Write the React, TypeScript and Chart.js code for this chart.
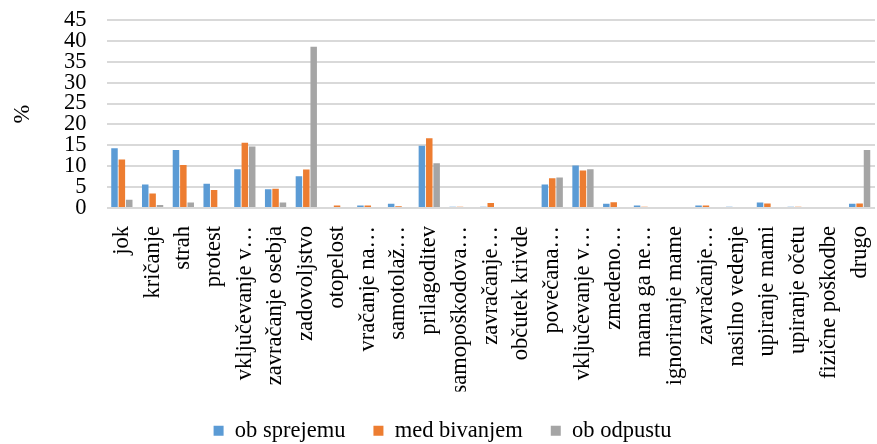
import React, { useEffect, useRef } from "react";
import { Chart, registerables } from "chart.js";

Chart.register(...registerables);

const categories: string[] = [
  "jok",
  "kričanje",
  "strah",
  "protest",
  "vključevanje v…",
  "zavračanje osebja",
  "zadovoljstvo",
  "otopelost",
  "vračanje na…",
  "samotolaž…",
  "prilagoditev",
  "samopoškodova…",
  "zavračanje…",
  "občutek krivde",
  "povečana…",
  "vključevanje v…",
  "zmedeno…",
  "mama ga ne…",
  "ignoriranje mame",
  "zavračanje…",
  "nasilno vedenje",
  "upiranje mami",
  "upiranje očetu",
  "fizične poškodbe",
  "drugo",
];

const obSprejemu: number[] = [
  14.3, 5.6, 13.9, 5.8, 9.3, 4.5, 7.6, 0, 0.6, 1.0, 14.9, 0.3, 0.3, 0, 5.6,
  10.2, 1.0, 0.6, 0, 0.6, 0.3, 1.3, 0.3, 0, 1.0,
];
const medBivanjem: number[] = [
  11.6, 3.5, 10.3, 4.3, 15.6, 4.6, 9.2, 0.6, 0.6, 0.4, 16.7, 0.3, 1.2, 0, 7.1,
  9.0, 1.4, 0.3, 0, 0.6, 0, 1.1, 0.3, 0, 1.1,
];
const obOdpustu: number[] = [
  2.0, 0.7, 1.3, 0, 14.7, 1.3, 38.6, 0, 0, 0, 10.7, 0, 0, 0, 7.3, 9.3, 0, 0, 0,
  0, 0, 0, 0, 0, 13.9,
];

const seriesNames: string[] = ["ob sprejemu", "med bivanjem", "ob odpustu"];
const yMax = 45;
const yStep = 5;

export default function App() {
  const ref = useRef<HTMLCanvasElement | null>(null);

  useEffect(() => {
    if (!ref.current) return;
    const font = "'Liberation Serif', 'Times New Roman', serif";
    const fs = 22.5;
    const chart = new Chart(ref.current, {
      type: "bar",
      data: {
        labels: categories,
        datasets: [
          { label: seriesNames[0], data: obSprejemu, backgroundColor: "#5B9BD5" },
          { label: seriesNames[1], data: medBivanjem, backgroundColor: "#ED7D31" },
          { label: seriesNames[2], data: obOdpustu, backgroundColor: "#A5A5A5" },
        ],
      },
      options: {
        responsive: false,
        animation: false,
        maintainAspectRatio: false,
        layout: { padding: { top: 20, right: 2, left: 10, bottom: -8 } },
        datasets: {
          bar: { barPercentage: 0.88, categoryPercentage: 0.72 },
        },
        plugins: {
          legend: {
            position: "bottom",
            labels: {
              font: { family: font, size: fs },
              color: "#000",
              boxWidth: 10,
              boxHeight: 10,
              padding: 28,
            },
          },
          tooltip: { enabled: false },
        },
        scales: {
          x: {
            grid: { display: false, drawTicks: false },
            border: { display: false },
            ticks: {
              font: { family: font, size: fs },
              color: "#000",
              minRotation: 90,
              maxRotation: 90,
              autoSkip: false,
              padding: 18,
            },
            afterFit: (scale: any) => {
              scale.height -= 20;
              scale.paddingLeft = 0;
              scale.paddingRight = 0;
            },
          },
          y: {
            min: 0,
            max: yMax,
            grid: {
              color: "#D9D9D9",
              lineWidth: 2,
              drawTicks: true,
              tickLength: 17,
              tickColor: "rgba(0,0,0,0)",
            },
            border: { display: false },
            ticks: {
              stepSize: yStep,
              autoSkip: false,
              font: { family: font, size: fs },
              color: "#000",
              padding: 3,
            },
            title: {
              display: true,
              text: "%",
              font: { family: font, size: fs },
              color: "#000",
              padding: { top: 0, bottom: 24 },
            },
          },
        },
      },
    });
    return () => chart.destroy();
  }, []);

  return (
    <div style={{ position: "fixed", left: 0, top: 0, width: 877, height: 444, background: "#fff" }}>
      <canvas ref={ref} width={877} height={444} />
    </div>
  );
}
